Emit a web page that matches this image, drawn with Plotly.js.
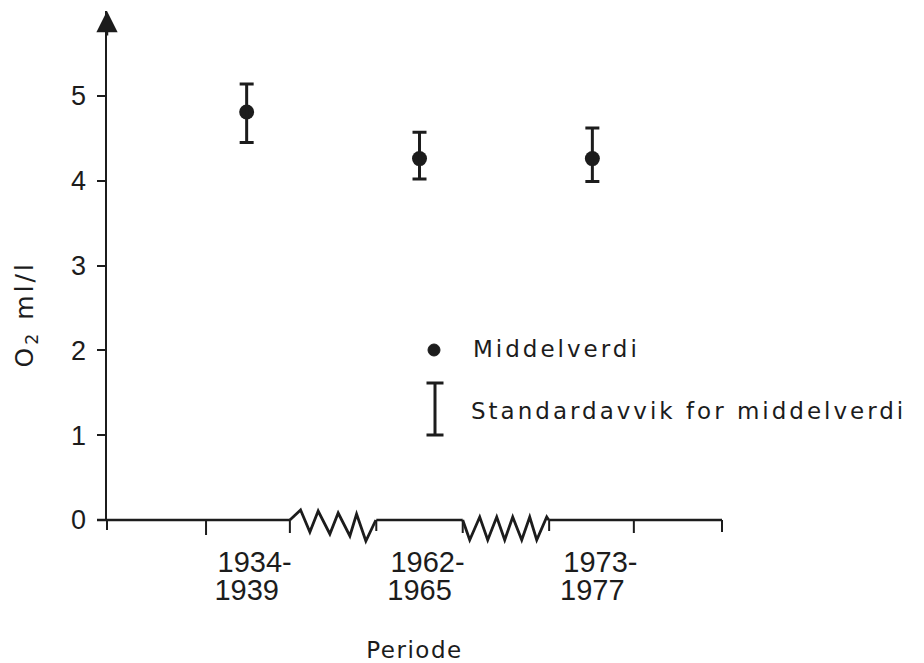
<!DOCTYPE html>
<html><head><meta charset="utf-8">
<script src="https://cdn.plot.ly/plotly-3.0.1.min.js"></script>
<style>
html,body{margin:0;padding:0;background:#fff;}
#chart{width:924px;height:663px;}
#chart .annotation-text{letter-spacing:3px;}
#chart .xtitle{letter-spacing:1.5px;}
</style></head><body><div id="chart"></div>
<script>
// ---------- DATA ----------
const periods = ['1934-1939', '1962-1965', '1973-1977'];
const periodStart = ['1934-', '1962-', '1973-'];
const periodEnd = ['1939', '1965', '1977'];
const meanO2 = [4.81, 4.26, 4.26];
const sdPlus = [0.33, 0.31, 0.36];
const sdMinus = [0.36, 0.24, 0.27];
const yTickVals = [0, 1, 2, 3, 4, 5];
const legendLabels = ['Middelverdi', 'Standardavvik for middelverdi'];
const yTitle = 'O<sub>2</sub> ml/l';
const xTitle = 'Periode';

// ---------- LAYOUT / STYLE ----------
const W = 924, H = 663, L = 107, R = 202, T = 11, B = 143;
const X_RANGE = [-0.808, 2.75], Y_RANGE = [0, 6];
const plotW = W - L - R, plotH = H - T - B;
const xSpan = X_RANGE[1] - X_RANGE[0];
const pxPerX = plotW / xSpan;
const dx = p => p / pxPerX;             // pixels -> x data units
const px2X = x => (x - X_RANGE[0]) / xSpan;   // x data -> paper
const dyP = p => p / plotH;             // pixels -> paper y
const paperX = p => (p - L) / plotW;
const paperY = p => (H - B - p) / plotH;
const ink = '#1c1c1c';
const idx = periods.map((_, i) => i);

// axis breaks sit halfway between neighbouring periods
const breaks = idx.slice(0, -1).map(i => [i + 0.25, i + 0.75]);

const shapes = [];
const line = (x0, y0, x1, y1, w) => shapes.push({type: 'line', xref: 'paper', yref: 'paper',
  x0: px2X(x0), y0, x1: px2X(x1), y1, line: {color: ink, width: w || 2.5}});
// x-axis segments
const segStarts = [X_RANGE[0] - dx(10)].concat(breaks.map(b => b[1]));
const segEnds = breaks.map(b => b[0]).concat([X_RANGE[1]]);
segStarts.forEach((s, i) => line(s, 0, segEnds[i], 0));
// x-axis ticks (downwards)
[[X_RANGE[0], 10], [-0.235, 15], [2.24, 13], [X_RANGE[1], 12]].forEach(t => line(t[0], 0, t[0], -dyP(t[1]), 2));
breaks.forEach(b => { line(b[0], 0, b[0], -dyP(13), 2); line(b[1], 0, b[1], -dyP(11), 2); });
// zigzags (pixel offsets from start of break)
const zigStyles = [
  [[0,0],[10.7,10],[20,-12],[28.3,9],[40,-14],[48.3,7],[60,-16],[66.7,6],[76,-21],[86,0]],
  [[0,0],[7,-20],[17,3],[25,-20],[34,3],[42,-20],[50,3],[59,-20],[67,3],[74,-20],[84,3],[86,0]]
];
breaks.forEach((b, i) => {
  const pts = zigStyles[i].map(p => px2X(b[0] + dx(p[0])) + ',' + dyP(p[1]));
  shapes.push({type: 'path', xref: 'paper', yref: 'paper', path: 'M' + pts.join('L'),
    line: {color: ink, width: 2.8}});
});
// legend glyphs
shapes.push({type: 'circle', xref: 'paper', yref: 'paper', xsizemode: 'pixel', ysizemode: 'pixel',
  xanchor: paperX(434), yanchor: paperY(350), x0: -6, x1: 6, y0: -6, y1: 6,
  fillcolor: ink, line: {color: ink, width: 1}});
shapes.push({type: 'path', xref: 'paper', yref: 'paper', xsizemode: 'pixel', ysizemode: 'pixel',
  xanchor: paperX(435), yanchor: paperY(409), path: 'M-8.5,26H8.5M0,26V-26M-8.5,-26H8.5',
  line: {color: ink, width: 3}});

const annotations = [
  {xref: 'x', yref: 'y', x: X_RANGE[0], y: Y_RANGE[1], text: '', showarrow: true,
   ax: 0, ay: 26, arrowhead: 2, arrowsize: 1.7, arrowwidth: 2.5, arrowcolor: ink},
  {xref: 'paper', yref: 'paper', x: paperX(470.5), y: paperY(348.5), xanchor: 'left', yanchor: 'middle',
   align: 'left', text: legendLabels[0], showarrow: false, font: {family: 'DejaVu Sans', size: 23, color: ink}},
  {xref: 'paper', yref: 'paper', x: paperX(469), y: paperY(411), xanchor: 'left', yanchor: 'middle',
   align: 'left', text: legendLabels[1], showarrow: false, font: {family: 'DejaVu Sans', size: 23, color: ink}},
  {xref: 'paper', yref: 'paper', x: paperX(26), y: paperY(315), xanchor: 'center', yanchor: 'middle',
   text: yTitle, textangle: -90, showarrow: false, font: {family: 'DejaVu Sans', size: 25, color: ink}}
];

const tickFont = {family: 'Liberation Sans, Arial, sans-serif', size: 29, color: ink};

const traces = [
  { // mean values
    type: 'scatter', mode: 'markers', x: idx, y: meanO2, name: legendLabels[0],
    text: periods, cliponaxis: false, xaxis: 'x', yaxis: 'y',
    marker: {size: 15, color: ink}
  },
  { // standard deviation of the mean (error bars only)
    type: 'scatter', mode: 'markers', x: idx, y: meanO2, name: legendLabels[1],
    text: periods, cliponaxis: false, xaxis: 'x2', yaxis: 'y',
    marker: {size: 1, color: 'rgba(0,0,0,0)'},
    error_y: {type: 'data', symmetric: false, array: sdPlus, arrayminus: sdMinus,
              color: ink, thickness: 3, width: 7}
  }
];

const layout = {
  width: W, height: H, showlegend: false,
  paper_bgcolor: '#fff', plot_bgcolor: '#fff',
  margin: {l: L, r: R, t: T, b: B},
  font: {family: 'DejaVu Sans', color: ink},
  xaxis: {range: X_RANGE, showline: false, zeroline: false, showgrid: false, automargin: false,
    tickmode: 'array', tickvals: idx, ticktext: periodStart, ticks: '', tickfont: tickFont,
    ticklabelstandoff: 22, ticklabelshift: 8,
    title: {text: xTitle, font: {family: 'DejaVu Sans', size: 23, color: ink}, standoff: 64}},
  xaxis2: {range: X_RANGE, overlaying: 'x', anchor: 'y', side: 'bottom', showline: false, zeroline: false,
    showgrid: false, automargin: false, tickmode: 'array', tickvals: idx, ticktext: periodEnd, ticks: '',
    tickfont: tickFont, ticklabelstandoff: 50, ticklabelshift: 3.5},
  yaxis: {range: Y_RANGE, showline: true, linewidth: 2.5, linecolor: ink, zeroline: false, showgrid: false,
    automargin: false, ticks: 'outside', ticklen: 8, tickwidth: 2, tickcolor: ink,
    tickmode: 'array', tickvals: yTickVals,
    tickfont: {family: 'Liberation Sans, Arial, sans-serif', size: 27, color: ink}, ticklabelstandoff: 5},
  shapes, annotations
};

Plotly.newPlot('chart', traces, layout, {staticPlot: true, displayModeBar: false});
</script></body></html>
